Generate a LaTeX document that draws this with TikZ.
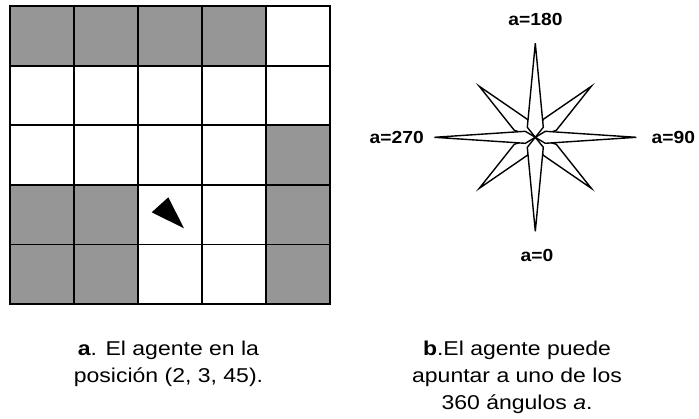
\documentclass[tikz,border=0pt]{standalone}
\usepackage{fontspec}
\setmainfont{Liberation Sans}
\newfontfamily\lblfont[FakeStretch=1.1]{Liberation Sans}
\newfontfamily\capfont[FakeStretch=1.15]{Liberation Sans}
\definecolor{cellgray}{RGB}{150,150,150}

\begin{document}
\begin{tikzpicture}[x=1pt, y=-1pt,
    cell/.style={fill=cellgray},
    gridline/.style={line width=1.8pt, line cap=rect},
    ray/.style={draw, fill=white, line width=1.4pt, line join=miter},
    angle label/.style={font=\lblfont\fontsize{17.5}{20}\selectfont\bfseries, inner sep=0pt},
    caption/.style={font=\capfont\fontsize{20}{27}\selectfont, align=center, inner sep=0pt}]
  \useasboundingbox (0,0) rectangle (699,418);

  % Grid world
  \def\cw{64} \def\ch{59.6}
  \foreach \c/\r in {0/0,1/0,2/0,3/0,4/2,0/3,1/3,4/3,0/4,1/4,4/4}
    \fill[cell] (10+\c*\cw, 6+\r*\ch) rectangle ++(\cw,\ch);
  \foreach \i in {0,...,5} {
    \draw[gridline] (10+\i*\cw, 6) -- (10+\i*\cw, 304);
    \draw[gridline] (10, 6+\i*\ch) -- (330, 6+\i*\ch);
  }

  % Agent
  \fill (151.7,212.3) -- (168.3,197.3) -- (184,228.3) -- cycle;

  % Compass rose
  \coordinate (rose) at (535.3,137.3);
  \begin{scope}[shift={(rose)}]
    \foreach \sx/\sy in {1/1,1/-1,-1/1,-1/-1}
      \draw[ray, xscale=\sx, yscale=\sy] (0,0) -- (21,7) -- (56,51) -- (8,18) -- cycle;
    \foreach \sx in {1,-1} {
      \draw[ray, xscale=\sx] (0,0) -- (10,6) -- (101,0) -- (10,-6) -- cycle;
      \draw[ray, yscale=\sx] (0,0) -- (8,10) -- (0,94) -- (-8,10) -- cycle;
    }
  \end{scope}

  % Angle labels
  \node[angle label, anchor=base] (a180) at (535.5,25) {a=180};
  \node[angle label, anchor=base] (a270) at (396.7,143.3) {a=270};
  \node[angle label, anchor=base] (a90) at (673.3,143.3) {a=90};
  \node[angle label, anchor=base] (a0) at (537,261.7) {a=0};

  % Captions
  \node[caption, anchor=base] (capa) at (168.5,382) {\textbf{a}. El agente en la\\posición (2, 3, 45).};
  \node[caption, anchor=base] (capb) at (517,409) {\textbf{b}.El agente puede\\apuntar a uno de los\\360 ángulos \textit{a}.};
\end{tikzpicture}
\end{document}
